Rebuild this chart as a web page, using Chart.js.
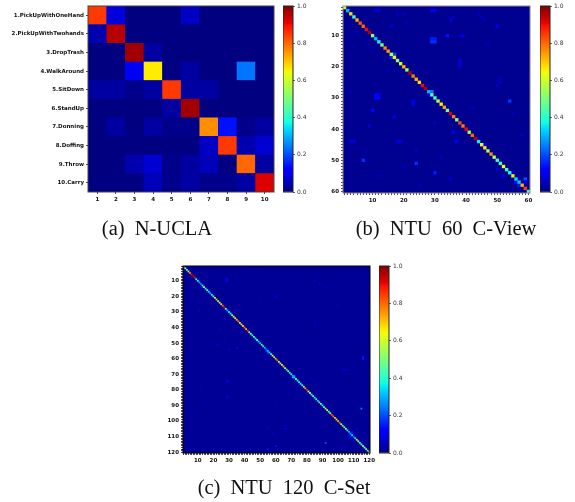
<!DOCTYPE html>
<html>
<head>
<meta charset="utf-8">
<title>Confusion matrices</title>
<script src="https://cdn.jsdelivr.net/npm/chart.js@4/dist/chart.umd.js"></script>
<style>
    body { margin: 0; background: #fff; width: 575px; height: 502px; position: relative; overflow: hidden; }
    canvas { position: absolute; filter: blur(0.6px); }
    .caption { position: absolute; transform: translateX(-50%); white-space: nowrap; font: 20.5px "Liberation Serif", serif; word-spacing: 5px; color: #111; filter: blur(0.3px); }
</style>
</head>
<body>
<canvas id="uclaChart"></canvas>
<canvas id="uclaBar"></canvas>
<div class="caption" style="left:157px; top:217px;">(a) N-UCLA</div>
<canvas id="ntu60Chart"></canvas>
<canvas id="ntu60Bar"></canvas>
<div class="caption" style="left:446px; top:217px;">(b) NTU 60 C-View</div>
<canvas id="ntu120Chart"></canvas>
<canvas id="ntu120Bar"></canvas>
<div class="caption" style="left:284px; top:476px;">(c) NTU 120 C-Set</div>
<script>
// N-UCLA classes and confusion matrix (rows = true class)
const uclaLabels = ['1.PickUpWithOneHand', '2.PickUpWithTwohands', '3.DropTrash', '4.WalkAround', '5.SitDown', '6.StandUp', '7.Donning', '8.Doffing', '9.Throw', '10.Carry'];
const uclaMatrix = [
    [0.85, 0.08, 0, 0, 0, 0.06, 0, 0, 0, 0],
    [0.04, 0.95, 0, 0, 0, 0, 0, 0, 0, 0],
    [0, 0, 0.97, 0.03, 0, 0, 0, 0, 0, 0],
    [0, 0, 0.10, 0.66, 0, 0.03, 0, 0, 0.24, 0],
    [0.03, 0.03, 0.01, 0.03, 0.85, 0.03, 0.03, 0, 0, 0],
    [0, 0, 0, 0, 0.03, 0.97, 0, 0, 0, 0],
    [0, 0.03, 0, 0.03, 0.01, 0.01, 0.76, 0.14, 0.01, 0.03],
    [0, 0, 0, 0, 0, 0, 0.06, 0.85, 0.04, 0.07],
    [0, 0, 0.04, 0.07, 0.01, 0.03, 0.05, 0, 0.80, 0.03],
    [0, 0, 0, 0.05, 0.01, 0.03, 0.01, 0.01, 0.03, 0.92]
];

// NTU 60 C-View diagonal, then the visible off-diagonal cells as [row, col, value]
const ntu60Diagonal = [
    0.60, 0.30, 0.68, 0.42, 0.72, 0.82, 0.80, 0.90, 0.95, 0.52,
    0.30, 0.37, 0.50, 0.77, 0.75, 0.58, 0.65, 0.52, 0.60, 0.72,
    0.55, 0.95, 0.78, 0.72, 0.68, 0.90, 0.95, 0.30, 0.47, 0.42,
    0.57, 0.66, 0.74, 0.50, 0.92, 0.78, 0.52, 0.84, 0.78, 0.90,
    0.55, 0.80, 0.95, 0.36, 0.65, 0.67, 0.56, 0.76, 0.58, 0.42,
    0.43, 0.64, 0.42, 0.38, 0.66, 0.34, 0.32, 0.72, 0.85, 0.42
];
const ntu60Off = [
    [11, 29, 0.15], [11, 30, 0.15], [12, 29, 0.17], [12, 30, 0.17], [16, 17, 0.2], [17, 16, 0.16], [28, 29, 0.25],
    [10, 34, 0.14], [10, 39, 0.09], [29, 11, 0.11], [29, 12, 0.1], [30, 11, 0.13], [30, 12, 0.13], [34, 10, 0.13],
    [31, 54, 0.18], [50, 7, 0.17], [51, 24, 0.17], [54, 30, 0.15], [45, 46, 0.13], [46, 46, 0.13], [44, 3, 0.08],
    [44, 4, 0.08], [31, 23, 0.1], [32, 23, 0.1], [29, 28, 0.1], [2, 11, 0.07], [2, 12, 0.08], [2, 29, 0.1],
    [2, 30, 0.1], [5, 35, 0.08], [7, 16, 0.07], [7, 50, 0.09], [44, 37, 0.12], [44, 18, 0.08], [44, 19, 0.08],
    [56, 59, 0.2], [57, 59, 0.1], [57, 56, 0.14], [58, 57, 0.15], [53, 50, 0.07], [18, 38, 0.07], [19, 38, 0.08],
    [20, 38, 0.06], [36, 17, 0.08], [39, 9, 0.07], [41, 36, 0.1], [4, 36, 0.06], [3, 18, 0.05], [3, 20, 0.05],
    [10, 38, 0.06], [9, 5, 0.04], [14, 10, 0.04], [16, 3, 0.04], [21, 15, 0.05], [24, 51, 0.05], [28, 3, 0.05],
    [33, 42, 0.05], [35, 55, 0.05], [38, 30, 0.05], [42, 58, 0.05], [47, 24, 0.05], [49, 32, 0.05], [52, 20, 0.05],
    [55, 12, 0.05], [56, 35, 0.06], [58, 25, 0.05], [55, 52, 0.08], [54, 55, 0.06], [47, 8, 0.04], [40, 40, 0.04],
    [26, 50, 0.05], [25, 51, 0.06], [13, 47, 0.05], [6, 21, 0.04], [5, 46, 0.05], [3, 44, 0.05], [4, 45, 0.05]
];

// NTU 120 C-Set diagonal and off-diagonal cells
const ntu120Diagonal = [
    0.25, 0.62, 0.45, 0.55, 0.78, 0.90, 0.95, 0.88, 0.40, 0.38,
    0.30, 0.25, 0.40, 0.55, 0.40, 0.45, 0.35, 0.30, 0.38, 0.42,
    0.60, 0.70, 0.50, 0.60, 0.68, 0.80, 0.90, 0.45, 0.30, 0.35,
    0.40, 0.50, 0.62, 0.60, 0.72, 0.78, 0.65, 0.55, 0.70, 0.80,
    0.72, 0.85, 0.55, 0.50, 0.40, 0.45, 0.38, 0.42, 0.35, 0.30,
    0.50, 0.38, 0.30, 0.25, 0.30, 0.35, 0.40, 0.65, 0.50, 0.72,
    0.80, 0.60, 0.55, 0.62, 0.70, 0.60, 0.45, 0.50, 0.40, 0.38,
    0.30, 0.35, 0.40, 0.45, 0.38, 0.40, 0.42, 0.55, 0.72, 0.88,
    0.60, 0.50, 0.42, 0.45, 0.38, 0.40, 0.35, 0.45, 0.50, 0.38,
    0.42, 0.55, 0.60, 0.45, 0.55, 0.82, 0.78, 0.70, 0.65, 0.72,
    0.80, 0.60, 0.45, 0.50, 0.55, 0.40, 0.30, 0.30, 0.35, 0.25,
    0.35, 0.55, 0.60, 0.40, 0.50, 0.45, 0.60, 0.50, 0.45, 0.50
];
const ntu120Off = [
    [9, 29, 0.11], [10, 29, 0.12], [9, 28, 0.09], [10, 28, 0.09], [72, 71, 0.3], [71, 72, 0.24], [92, 115, 0.25],
    [59, 116, 0.15], [60, 116, 0.15], [116, 60, 0.14], [118, 55, 0.14], [114, 92, 0.2], [75, 29, 0.11], [74, 29, 0.1],
    [53, 35, 0.12], [54, 30, 0.1], [51, 23, 0.08], [85, 29, 0.08], [84, 29, 0.07], [67, 104, 0.1], [67, 106, 0.08],
    [103, 66, 0.1], [105, 66, 0.1], [109, 107, 0.14], [107, 109, 0.14], [108, 110, 0.12], [110, 108, 0.14],
    [55, 54, 0.2], [56, 55, 0.2], [54, 55, 0.13], [14, 13, 0.18], [13, 14, 0.12], [16, 17, 0.12], [28, 27, 0.14],
    [20, 60, 0.08], [21, 61, 0.07], [25, 100, 0.08], [76, 75, 0.1], [75, 78, 0.08], [73, 83, 0.07], [74, 85, 0.07],
    [76, 87, 0.06], [36, 85, 0.06], [29, 11, 0.08], [38, 85, 0.07], [23, 50, 0.06], [10, 85, 0.07], [12, 88, 0.07],
    [14, 92, 0.06], [8, 34, 0.06], [5, 20, 0.05], [3, 47, 0.05], [6, 70, 0.04], [30, 85, 0.05], [41, 24, 0.06],
    [49, 27, 0.06], [58, 50, 0.05], [78, 12, 0.06], [80, 25, 0.05], [88, 15, 0.06], [95, 8, 0.05], [100, 30, 0.05],
    [104, 55, 0.07], [108, 58, 0.07], [112, 60, 0.05], [117, 40, 0.06], [116, 104, 0.06], [113, 110, 0.08],
    [112, 116, 0.08], [115, 118, 0.07], [108, 117, 0.05], [111, 107, 0.1], [105, 112, 0.05], [62, 20, 0.05],
    [65, 110, 0.05], [70, 117, 0.05], [45, 115, 0.05], [33, 117, 0.04], [90, 60, 0.05], [96, 75, 0.05], [99, 90, 0.05]
];

// dark blue floor behind the cells
const uclaFloor = 0;
const ntu60Floor = 0.015;
const ntu120Floor = 0.02;

const colorbarTicks = [0, 0.2, 0.4, 0.6, 0.8, 1];

// matplotlib jet anchors
const jetRed = [[0, 0], [0.35, 0], [0.66, 1], [0.89, 1], [1, 0.5]];
const jetGreen = [[0, 0], [0.125, 0], [0.375, 1], [0.64, 1], [0.91, 0], [1, 0]];
const jetBlue = [[0, 0.5], [0.11, 1], [0.34, 1], [0.65, 0], [1, 0]];

const channel = (anchors, v) => {
    for (let i = 1; i < anchors.length; i++) {
        if (v <= anchors[i][0]) {
            const [x0, y0] = anchors[i - 1];
            const [x1, y1] = anchors[i];
            return y0 + (y1 - y0) * (v - x0) / (x1 - x0);
        }
    }
    return anchors[anchors.length - 1][1];
};
const jet = (v) => `rgb(${Math.round(channel(jetRed, v) * 255)},${Math.round(channel(jetGreen, v) * 255)},${Math.round(channel(jetBlue, v) * 255)})`;

const range = (n) => Array.from({ length: n }, (_, i) => i + 1);

const matrixCells = (matrix) => matrix.flatMap((row, r) => row.map((v, c) => ({ x: c + 1, y: r + 1, v })));
const sparseCells = (diagonal, off) => [
    ...off.map(([r, c, v]) => ({ x: c, y: r, v })),
    ...diagonal.map((v, i) => ({ x: i + 1, y: i + 1, v }))
];

// plot background + frame
const framePlugin = {
    id: 'frame',
    beforeDatasetsDraw(chart, args, opts) {
        const { left, top, width, height } = chart.chartArea;
        if (opts.fill) {
            chart.ctx.fillStyle = opts.fill;
            chart.ctx.fillRect(left, top, width, height);
        }
    },
    afterDraw(chart, args, opts) {
        const { left, top, width, height } = chart.chartArea;
        chart.ctx.strokeStyle = opts.color;
        chart.ctx.lineWidth = 1;
        chart.ctx.strokeRect(left, top, width, height);
    }
};

const place = (canvas, left, top, width, height) => {
    canvas.width = width;
    canvas.height = height;
    canvas.style.left = left + 'px';
    canvas.style.top = top + 'px';
};

// labels may hang over the plot edge, keep them from shrinking the plot
const noOverhang = (s) => {
    s.paddingLeft = 0;
    s.paddingRight = 0;
    s.paddingTop = 0;
    s.paddingBottom = 0;
};

const tickFont = { family: '"DejaVu Sans"', size: 5.5, weight: 'bold' };

function drawMatrix(id, plot, n, cells, yLabel, xLabel, frameColor, floor) {
    const labelWidth = plot.gutter;
    const canvas = document.getElementById(id);
    place(canvas, plot.left - labelWidth, plot.top - 6, labelWidth + plot.size + 8, plot.size + 24);
    const radius = (plot.size / n + 0.25) / Math.SQRT2;
    const axis = (label, reverse, fit) => ({
        type: 'linear',
        reverse,
        min: 0.5,
        max: n + 0.5,
        afterBuildTicks: (scale) => { scale.ticks = range(n).map((value) => ({ value })); },
        afterFit: (s) => { fit(s); noOverhang(s); },
        border: { display: false },
        grid: { drawOnChartArea: false, drawTicks: true, tickLength: 2, tickWidth: 0.7, tickColor: '#000' },
        ticks: { autoSkip: false, maxRotation: 0, padding: 2, color: '#111', font: tickFont, callback: label }
    });
    new Chart(canvas, {
        type: 'scatter',
        data: {
            datasets: [{
                data: cells,
                pointStyle: 'rect',
                pointRadius: radius,
                pointHoverRadius: radius,
                pointBorderWidth: 0,
                pointBorderColor: 'transparent',
                pointBackgroundColor: (ctx) => jet(ctx.raw ? ctx.raw.v : 0)
            }]
        },
        options: {
            responsive: false,
            animation: false,
            events: [],
            // big square points would otherwise pad the plot
            layout: { autoPadding: false, padding: { top: 6, right: 8, left: 0, bottom: 0 } },
            plugins: {
                legend: { display: false },
                tooltip: { enabled: false },
                frame: { color: frameColor, fill: jet(floor) }
            },
            scales: {
                x: axis(xLabel, false, (s) => { s.height = 18; }),
                y: axis(yLabel, true, (s) => { s.width = labelWidth; })
            }
        },
        plugins: [framePlugin]
    });
}

function drawColorbar(id, plot, frameColor) {
    const canvas = document.getElementById(id);
    place(canvas, plot.left, plot.top - 6, 30, plot.size + 12);
    new Chart(canvas, {
        type: 'bar',
        data: {
            labels: ['jet'],
            datasets: [{
                data: [[0, 1]],
                barPercentage: 1,
                categoryPercentage: 1,
                backgroundColor: (ctx) => {
                    const area = ctx.chart.chartArea;
                    if (!area) return '#000';
                    const gradient = ctx.chart.ctx.createLinearGradient(0, area.bottom, 0, area.top);
                    for (let i = 0; i <= 64; i++) gradient.addColorStop(i / 64, jet(i / 64));
                    return gradient;
                }
            }]
        },
        options: {
            responsive: false,
            animation: false,
            events: [],
            layout: { padding: { top: 6, bottom: 6, left: 0, right: 0 } },
            plugins: { legend: { display: false }, tooltip: { enabled: false }, frame: { color: frameColor } },
            scales: {
                x: { display: false },
                y: {
                    position: 'right',
                    min: 0,
                    max: 1,
                    afterBuildTicks: (scale) => { scale.ticks = colorbarTicks.map((value) => ({ value })); },
                    afterFit: (s) => { s.width = 30 - plot.width; noOverhang(s); },
                    border: { display: false },
                    grid: { drawOnChartArea: false, tickLength: 2, tickWidth: 0.7, tickColor: '#222' },
                    ticks: {
                        padding: 2,
                        color: '#333',
                        font: { family: '"DejaVu Sans"', size: 6 },
                        callback: (v) => v.toFixed(1)
                    }
                }
            }
        },
        plugins: [framePlugin]
    });
}

const every10 = (v) => (v % 10 === 0 ? String(v) : '');

drawMatrix('uclaChart', { left: 88, top: 6, size: 186, gutter: 88 }, 10, matrixCells(uclaMatrix),
    (v) => uclaLabels[v - 1], (v) => String(v), '#444', uclaFloor);
drawColorbar('uclaBar', { left: 283, top: 6, size: 186, width: 10 }, '#222');

drawMatrix('ntu60Chart', { left: 343, top: 6, size: 187, gutter: 24 }, 60, sparseCells(ntu60Diagonal, ntu60Off),
    every10, every10, '#888', ntu60Floor);
drawColorbar('ntu60Bar', { left: 540, top: 6, size: 186, width: 10 }, '#222');

drawMatrix('ntu120Chart', { left: 183, top: 266, size: 187, gutter: 24 }, 120, sparseCells(ntu120Diagonal, ntu120Off),
    every10, every10, '#000', ntu120Floor);
drawColorbar('ntu120Bar', { left: 379, top: 266, size: 187, width: 10 }, '#222');
</script>
</body>
</html>
